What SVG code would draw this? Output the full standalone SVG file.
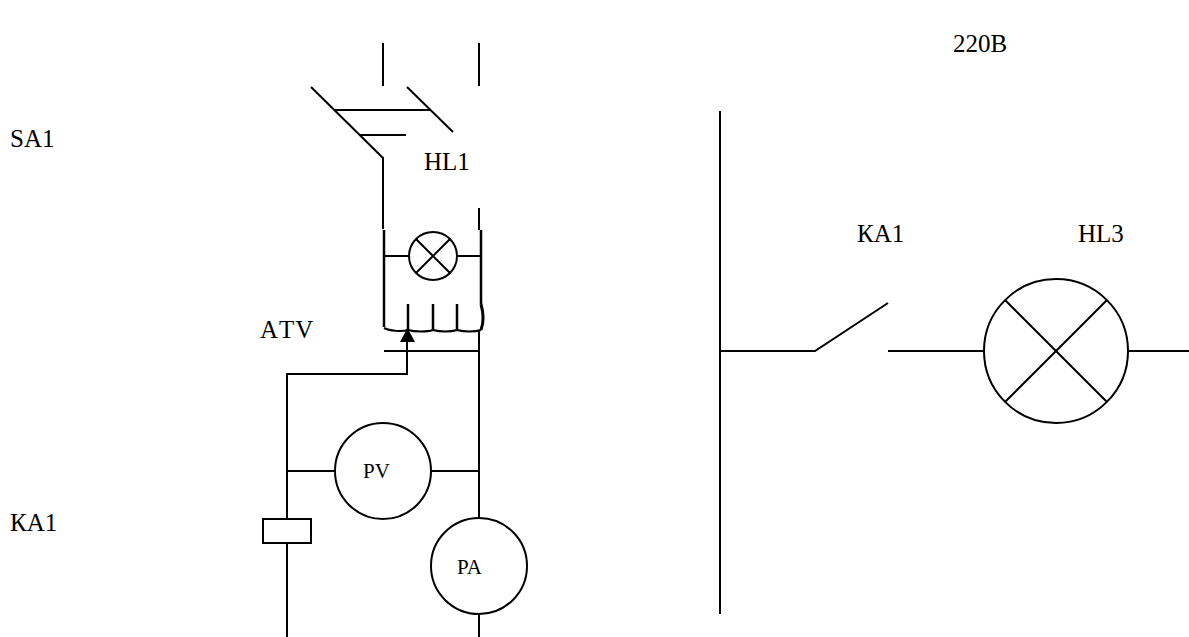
<svg xmlns="http://www.w3.org/2000/svg" width="1189" height="637" viewBox="0 0 1189 637">
<style>
.w{fill:none;stroke:#000;stroke-width:2}
.t{font-family:"Liberation Serif","Times New Roman",serif;font-size:25px;fill:#000}
.s{font-family:"Liberation Serif","Times New Roman",serif;font-size:21px;fill:#000}
</style>
<rect width="1189" height="637" fill="#fff"/>
<g id="connectors" class="w">
<path d="M383 43V86M479 43V86"/>
<path d="M311 87L383 158V229M407 87L453 132"/>
<path d="M335 110H431M359 135H406"/>
<path d="M479 208V230"/>
<path d="M384 230V327M481 230V304" stroke-width="2.5"/>
<path d="M384 256H409M457 256H481"/>
<path d="M384 328C390 331 402 332 408 330C415 332 427 332 433 330C440 332 451 332 457 330C464 332 475 332 481 330"/>
<path d="M408 304V330M433 304V330M457 304V330" stroke-width="2.5"/>
<path d="M481 304C484 315 484 322 481 330" stroke-width="3"/>
<path d="M384 351H479M479 330V518M479 614V637"/>
<path d="M407 342V374H287V519M287 543V637"/>
<path d="M287 471H335M431 471H479"/>
<path d="M720 111V614M720 351H815L888 303M888 351H984M1128 351H1189"/>
</g>
<path id="arrowhead" d="M407.500 328L400 342H415Z" fill="#000"/>
<g id="lamp-hl1" class="w"><circle cx="433" cy="256" r="24"/><path d="M416 239L450 273M450 239L416 273"/></g>
<g id="lamp-hl3" class="w"><circle cx="1056" cy="351" r="72"/><path d="M1005 300L1107 402M1107 300L1005 402"/></g>
<g id="meter-pv"><circle class="w" cx="383" cy="471" r="48"/><text class="s" x="363" y="478">PV</text></g>
<g id="meter-pa"><circle class="w" cx="479" cy="566" r="48"/><text class="s" x="457" y="574">PA</text></g>
<g id="relay-ka1"><rect class="w" x="263" y="519" width="48" height="24"/></g>
<g id="labels">
<text class="t" x="953" y="52">220В</text>
<text class="t" x="10" y="147">SA1</text>
<text class="t" x="424" y="170">HL1</text>
<text class="t" x="857" y="242">КА1</text>
<text class="t" x="1078" y="242">HL3</text>
<text class="t" x="260" y="338" style="font-kerning:none;letter-spacing:1px">ATV</text>
<text class="t" x="10" y="531">КА1</text>
</g>
</svg>
